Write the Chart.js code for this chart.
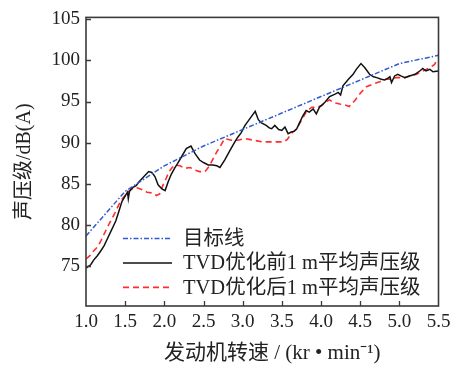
<!DOCTYPE html>
<html>
<head>
<meta charset="utf-8">
<script src="https://cdn.jsdelivr.net/npm/chart.js@4/dist/chart.umd.min.js"></script>
<style>
  html, body { margin: 0; padding: 0; background: #fff; }
  canvas { display: block; }
</style>
</head>
<body>
<canvas id="c" width="457" height="369"></canvas>
<script>
// Engine speed (kr/min) and sound pressure level dB(A)
const targetRpm   = [1.0, 1.5, 2.0, 2.5, 3.0, 3.5, 4.0, 4.5, 5.0, 5.5];
const targetLevel = [78.7, 84.1, 87.2, 89.6, 91.6, 93.6, 95.6, 97.6, 99.6, 100.6];

const beforeRpm = [1.00, 1.06, 1.10, 1.145, 1.19, 1.23, 1.27, 1.31, 1.35, 1.38, 1.42, 1.46, 1.51, 1.53, 1.54, 1.555,
  1.60, 1.64, 1.68, 1.74, 1.80, 1.84, 1.88, 1.92, 1.97, 2.01, 2.05, 2.09, 2.13, 2.17, 2.22, 2.28, 2.34, 2.39,
  2.45, 2.50, 2.56, 2.62, 2.67, 2.71, 2.77, 2.84, 2.90, 2.94, 2.98, 3.03, 3.09, 3.16, 3.20, 3.24, 3.30, 3.34,
  3.37, 3.41, 3.46, 3.50, 3.54, 3.58, 3.62, 3.66, 3.69, 3.73, 3.77, 3.81, 3.85, 3.90, 3.94, 3.98, 4.05, 4.11,
  4.18, 4.22, 4.25, 4.28, 4.35, 4.41, 4.45, 4.51, 4.56, 4.62, 4.67, 4.71, 4.77, 4.81, 4.85, 4.88, 4.90, 4.94,
  4.98, 5.02, 5.07, 5.13, 5.20, 5.26, 5.30, 5.34, 5.39, 5.43, 5.50];
const beforeLevel = [74.8, 75.2, 75.8, 76.3, 76.9, 77.5, 78.3, 79.1, 79.9, 80.5, 81.7, 82.9, 83.7, 84.0, 83.2, 84.1,
  84.6, 84.8, 85.3, 85.9, 86.5, 86.4, 85.9, 84.9, 84.4, 84.2, 85.3, 86.2, 86.9, 87.5, 88.3, 89.3, 89.6, 88.7,
  87.9, 87.6, 87.3, 87.3, 87.2, 87.0, 87.9, 89.1, 90.1, 90.7, 91.2, 92.1, 92.9, 93.8, 92.8, 92.4, 92.1, 91.8,
  91.7, 92.1, 91.6, 91.5, 91.9, 91.1, 91.3, 91.4, 91.7, 92.5, 93.3, 93.9, 93.7, 94.1, 93.5, 94.3, 94.9, 95.6,
  95.9, 96.1, 95.8, 96.9, 97.7, 98.3, 98.9, 99.6, 99.1, 98.3, 98.0, 97.9, 97.7, 97.6, 97.8, 98.0, 97.3, 98.1,
  98.3, 98.1, 97.9, 98.1, 98.3, 98.7, 99.0, 98.7, 98.9, 98.6, 98.7];

const afterRpm = [1.00, 1.05, 1.10, 1.15, 1.19, 1.23, 1.27, 1.32, 1.36, 1.40, 1.44, 1.48, 1.51, 1.57, 1.62, 1.66,
  1.72, 1.78, 1.85, 1.90, 1.94, 1.98, 2.02, 2.06, 2.10, 2.14, 2.20, 2.26, 2.33, 2.39, 2.45, 2.52, 2.57, 2.62,
  2.67, 2.71, 2.77, 2.86, 2.94, 3.03, 3.14, 3.26, 3.39, 3.52, 3.57, 3.62, 3.69, 3.75, 3.81, 3.88, 3.94, 4.01,
  4.07, 4.11, 4.15, 4.24, 4.30, 4.36, 4.43, 4.51, 4.58, 4.66, 4.75, 4.83, 4.90, 4.96, 5.07, 5.13, 5.22, 5.30,
  5.39, 5.45, 5.49];
const afterLevel = [75.9, 76.3, 76.9, 77.4, 78.1, 78.9, 79.7, 80.6, 81.3, 82.1, 82.9, 83.4, 83.7, 84.3, 84.6, 84.5,
  84.3, 84.0, 83.9, 83.6, 83.8, 84.8, 85.6, 86.5, 87.0, 87.3, 87.2, 86.9, 87.0, 86.7, 86.5, 86.5, 87.1, 88.0,
  88.9, 89.5, 90.5, 90.3, 90.3, 90.5, 90.3, 90.1, 90.1, 90.1, 90.4, 91.1, 91.7, 92.7, 93.7, 94.3, 94.3, 94.5,
  95.0, 95.2, 94.9, 94.7, 94.6, 94.4, 95.1, 96.1, 96.8, 97.1, 97.4, 97.7, 97.7, 97.9, 97.9, 98.1, 98.3, 98.7,
  99.1, 99.5, 100.2];

const xTicks = [1.0, 1.5, 2.0, 2.5, 3.0, 3.5, 4.0, 4.5, 5.0, 5.5];
const yTicks = [75, 80, 85, 90, 95, 100, 105];

const seriesNames = ['目标线', 'TVD优化前1 m平均声压级', 'TVD优化后1 m平均声压级'];
const xTitle = '发动机转速 / (kr • min⁻¹)';
const yTitle = '声压级/dB(A)';

const FAMILY = "'Liberation Serif', 'Times New Roman', 'Noto Sans CJK SC', serif";
const INK = '#222';

const pts = (xs, ys) => xs.map((x, i) => ({ x: x, y: ys[i] }));

// Frame, inward tick marks, x-axis title and the in-plot legend
const framePlugin = {
  id: 'frame',
  afterDatasetsDraw(chart) {
    const { ctx, chartArea: a, scales } = chart;
    const xs = scales.x, ys = scales.y;
    ctx.save();
    ctx.strokeStyle = '#3a3a3a';
    ctx.lineWidth = 1.6;
    ctx.strokeRect(a.left, a.top, a.right - a.left, a.bottom - a.top);

    ctx.lineWidth = 1.3;
    ctx.beginPath();
    xs.ticks.forEach(t => {
      if (t.value <= xs.min || t.value >= xs.max) return;
      const px = Math.round(xs.getPixelForValue(t.value)) + 0.5;
      ctx.moveTo(px, a.bottom);
      ctx.lineTo(px, a.bottom - 5);
    });
    ys.ticks.forEach(t => {
      if (t.value <= ys.min || t.value >= ys.max) return;
      const py = Math.round(ys.getPixelForValue(t.value)) + 0.5;
      ctx.moveTo(a.left, py);
      ctx.lineTo(a.left + 5, py);
    });
    ctx.stroke();

    // x-axis title, set a little right of the plot centre
    ctx.fillStyle = INK;
    ctx.font = '21px ' + FAMILY;
    ctx.textAlign = 'center';
    ctx.textBaseline = 'middle';
    ctx.fillText(xTitle, (a.left + a.right) / 2 + 10, a.bottom + 47);

    // legend
    const x0 = a.left + 37, x1 = a.left + 86, tx = a.left + 97;
    const rowY = [a.top + 221, a.top + 245.5, a.top + 270];
    ctx.font = '20.5px ' + FAMILY;
    ctx.textBaseline = 'middle';
    ctx.textAlign = 'left';
    chart.data.datasets.forEach((ds, i) => {
      const yy = rowY[i];
      ctx.save();
      ctx.strokeStyle = ds.borderColor;
      ctx.lineWidth = ds.borderWidth;
      ctx.setLineDash(ds.borderDash || []);
      ctx.beginPath();
      ctx.moveTo(x0, yy);
      ctx.lineTo(x1, yy);
      ctx.stroke();
      ctx.restore();
      ctx.fillStyle = INK;
      ctx.fillText(ds.label, tx, yy + 1);
    });
    ctx.restore();
  }
};

new Chart(document.getElementById('c'), {
  type: 'line',
  data: {
    datasets: [
      {
        label: seriesNames[0],
        data: pts(targetRpm, targetLevel),
        borderColor: '#2f5bcc',
        borderWidth: 1.5,
        borderDash: [5, 2, 1.5, 2],
        pointRadius: 0,
        tension: 0
      },
      {
        label: seriesNames[1],
        data: pts(beforeRpm, beforeLevel),
        borderColor: '#111111',
        borderWidth: 1.5,
        borderDash: [],
        pointRadius: 0,
        tension: 0
      },
      {
        label: seriesNames[2],
        data: pts(afterRpm, afterLevel),
        borderColor: '#ff2d2d',
        borderWidth: 1.6,
        borderDash: [6, 4],
        pointRadius: 0,
        tension: 0
      }
    ]
  },
  options: {
    responsive: false,
    animation: false,
    devicePixelRatio: 1,
    layout: { padding: { left: 0, right: 18.5, top: 14, bottom: 0 } },
    plugins: { legend: { display: false }, tooltip: { enabled: false } },
    scales: {
      x: {
        type: 'linear',
        min: 1,
        max: 5.5,
        afterBuildTicks: s => { s.ticks = xTicks.map(v => ({ value: v })); },
        afterFit: s => { s.height = 63; },
        grid: { display: false, drawTicks: false },
        border: { display: false },
        ticks: {
          padding: 5,
          maxRotation: 0,
          autoSkip: false,
          color: INK,
          font: { family: FAMILY, size: 19 },
          callback: v => Number(v).toFixed(1)
        },
        title: { display: false }
      },
      y: {
        type: 'linear',
        min: 70.2,
        max: 105.2,
        afterBuildTicks: s => { s.ticks = yTicks.map(v => ({ value: v })); },
        afterFit: s => { s.width = 86; },
        grid: { display: false, drawTicks: false },
        border: { display: false },
        ticks: {
          padding: 6,
          color: INK,
          font: { family: FAMILY, size: 19 },
          callback: v => String(v)
        },
        title: {
          display: true,
          text: yTitle,
          color: INK,
          font: { family: FAMILY, size: 20 },
          padding: { top: 13, bottom: 0 }
        }
      }
    }
  },
  plugins: [framePlugin]
});
</script>
</body>
</html>
